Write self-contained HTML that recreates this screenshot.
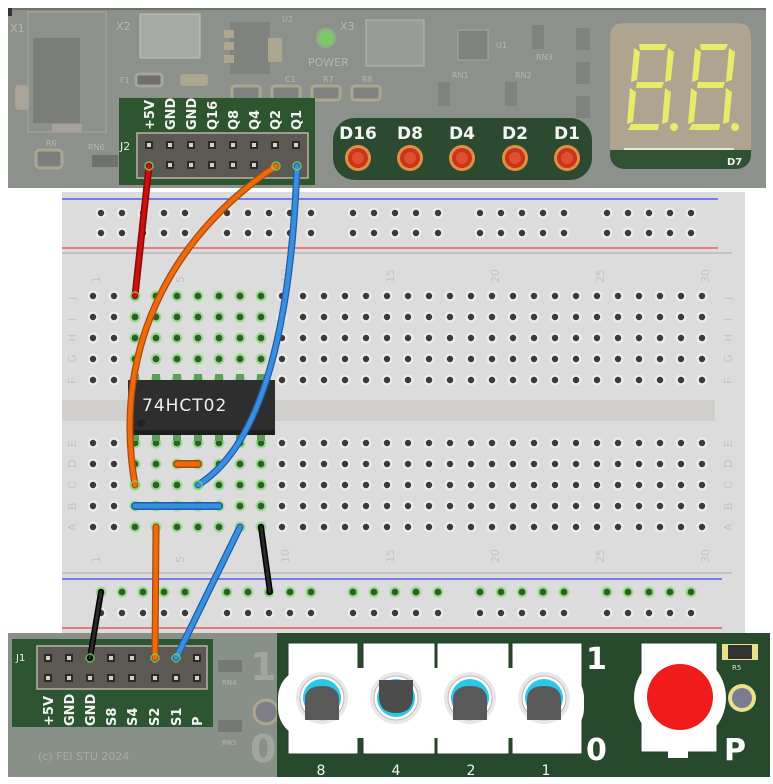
<!DOCTYPE html>
<html><head><meta charset="utf-8"><style>
html,body{margin:0;padding:0;background:#fff;width:773px;height:784px;overflow:hidden}
svg{display:block}
text{font-family:"DejaVu Sans","Liberation Sans",sans-serif}
</style></head><body>
<svg width="773" height="784" viewBox="0 0 773 784" xmlns="http://www.w3.org/2000/svg">
<defs>
<g id="h"><circle r="5.5" fill="#ececec"/><circle r="3.2" fill="#3a3a3a"/></g>
<g id="g"><circle r="5.5" fill="#9bdc8c"/><circle r="3.4" fill="#2f5e2c"/></g>
<g id="pin"><rect x="-4" y="-4" width="8" height="8" fill="#2a2a2a"/><rect x="-2" y="-2" width="4" height="4" fill="#d8d2b0"/></g>
<g id="row">
<use href="#h" x="93"/><use href="#h" x="114"/><use href="#g" x="135"/><use href="#g" x="156"/><use href="#g" x="177"/><use href="#g" x="198"/><use href="#g" x="219"/><use href="#g" x="240"/><use href="#g" x="261"/><use href="#h" x="282"/>
<use href="#h" x="303"/><use href="#h" x="324"/><use href="#h" x="345"/><use href="#h" x="366"/><use href="#h" x="387"/><use href="#h" x="408"/><use href="#h" x="429"/><use href="#h" x="450"/><use href="#h" x="471"/><use href="#h" x="492"/>
<use href="#h" x="513"/><use href="#h" x="534"/><use href="#h" x="555"/><use href="#h" x="576"/><use href="#h" x="597"/><use href="#h" x="618"/><use href="#h" x="639"/><use href="#h" x="660"/><use href="#h" x="681"/><use href="#h" x="702"/>
</g>
</defs>

<!-- TOP BOARD -->
<rect x="8" y="8" width="758" height="180" fill="#8d918b"/>
<rect x="8" y="8" width="758" height="2" fill="#6e726c"/>
<rect x="8" y="8" width="4" height="8" fill="#333"/>
<rect x="28" y="12" width="78" height="120" fill="none" stroke="#a6a9a2" stroke-width="1"/>
<rect x="33" y="38" width="47" height="85" fill="#7a7d78"/>
<rect x="15" y="85" width="14" height="25" rx="4" fill="#aaa397"/>
<rect x="52" y="124" width="30" height="8" fill="#a6a19a"/>
<text x="10" y="32" font-size="11" fill="#b5b8b0">X1</text>
<text x="116" y="30" font-size="11" fill="#b5b8b0">X2</text>
<rect x="140" y="14" width="60" height="44" fill="#a7aaa4" stroke="#c0c2bd"/>
<text x="340" y="30" font-size="11" fill="#b5b8b0">X3</text>
<rect x="366" y="20" width="58" height="46" fill="#9a9d97" stroke="#b5b8b0"/>
<rect x="230" y="22" width="40" height="52" fill="#7f827d"/>
<rect x="224" y="30" width="10" height="8" fill="#aca690"/><rect x="224" y="42" width="10" height="8" fill="#aca690"/><rect x="224" y="55" width="10" height="8" fill="#aca690"/>
<rect x="268" y="38" width="14" height="24" fill="#aca690"/>
<circle cx="326" cy="38" r="10" fill="#8fb07f"/><circle cx="326" cy="38" r="7" fill="#7bc96a"/>
<text x="308" y="66" font-size="11" fill="#b5b8b0">POWER</text>
<text x="282" y="22" font-size="8" fill="#b5b8b0">U2</text>
<rect x="136" y="74" width="26" height="12" rx="3" fill="#6f716d" stroke="#aaa49a" stroke-width="3"/>
<rect x="180" y="74" width="28" height="12" rx="3" fill="#aca690"/>
<rect x="232" y="86" width="28" height="14" rx="3" fill="#7f827d" stroke="#aca690" stroke-width="3"/>
<rect x="272" y="86" width="28" height="14" rx="3" fill="#7f827d" stroke="#aca690" stroke-width="3"/>
<rect x="312" y="86" width="28" height="14" rx="3" fill="#7f827d" stroke="#aca690" stroke-width="3"/>
<rect x="352" y="86" width="28" height="14" rx="3" fill="#7f827d" stroke="#aca690" stroke-width="3"/>
<text x="120" y="83" font-size="8" fill="#b5b8b0">F1</text>
<text x="285" y="82" font-size="8" fill="#b5b8b0">C1</text>
<text x="323" y="82" font-size="8" fill="#b5b8b0">R7</text>
<text x="362" y="82" font-size="8" fill="#b5b8b0">R8</text>
<rect x="458" y="30" width="30" height="30" fill="#7f827d" stroke="#a7aaa4"/>
<text x="496" y="48" font-size="8" fill="#b5b8b0">U1</text>
<rect x="532" y="25" width="12" height="24" fill="#7f827d"/><text x="536" y="60" font-size="8" fill="#b5b8b0">RN3</text>
<rect x="438" y="82" width="12" height="24" fill="#7f827d"/><text x="452" y="78" font-size="8" fill="#b5b8b0">RN1</text>
<rect x="505" y="82" width="12" height="24" fill="#7f827d"/><text x="515" y="78" font-size="8" fill="#b5b8b0">RN2</text>
<rect x="576" y="28" width="14" height="22" fill="#7f827d"/><rect x="576" y="62" width="14" height="22" fill="#7f827d"/><rect x="576" y="96" width="14" height="22" fill="#7f827d"/>
<rect x="36" y="150" width="26" height="18" rx="4" fill="#7b7e79" stroke="#aca690" stroke-width="3"/>
<text x="46" y="146" font-size="8" fill="#b5b8b0">R6</text>
<rect x="92" y="155" width="26" height="12" fill="#6f716d"/><text x="88" y="150" font-size="8" fill="#b5b8b0">RN6</text>

<!-- J2 -->
<rect x="119" y="98" width="196" height="87" fill="#2c5530"/>
<rect x="137" y="133" width="171" height="45" fill="#5c5955" stroke="#b9b4a6" stroke-width="1.5"/>
<text x="120" y="150" font-size="11" fill="#e8e8e8">J2</text>
<g font-size="13" fill="#f2f2f2" font-weight="bold">
<text transform="translate(154,130) rotate(-90)">+5V</text>
<text transform="translate(175,130) rotate(-90)">GND</text>
<text transform="translate(196,130) rotate(-90)">GND</text>
<text transform="translate(217,130) rotate(-90)">Q16</text>
<text transform="translate(238,130) rotate(-90)">Q8</text>
<text transform="translate(259,130) rotate(-90)">Q4</text>
<text transform="translate(280,130) rotate(-90)">Q2</text>
<text transform="translate(301,130) rotate(-90)">Q1</text>
</g>
<g>
<use href="#pin" x="149" y="145"/><use href="#pin" x="170" y="145"/><use href="#pin" x="191" y="145"/><use href="#pin" x="212" y="145"/><use href="#pin" x="233" y="145"/><use href="#pin" x="254" y="145"/><use href="#pin" x="275" y="145"/><use href="#pin" x="296" y="145"/>
<use href="#pin" x="170" y="165"/><use href="#pin" x="191" y="165"/><use href="#pin" x="212" y="165"/><use href="#pin" x="233" y="165"/><use href="#pin" x="254" y="165"/>
</g>

<!-- LED board -->
<rect x="333" y="118" width="259" height="62" rx="22" fill="#2c4a30"/>
<g font-size="17" fill="#f4f4f4" font-weight="bold" text-anchor="middle">
<text x="358" y="139">D16</text><text x="410" y="139">D8</text><text x="462" y="139">D4</text><text x="515" y="139">D2</text><text x="567" y="139">D1</text>
</g>
<g>
<circle cx="358" cy="158" r="13" fill="#e0903f"/><circle cx="358" cy="158" r="10" fill="#c8341c"/><circle cx="358" cy="158" r="6" fill="#e0502e"/>
<circle cx="410" cy="158" r="13" fill="#e0903f"/><circle cx="410" cy="158" r="10" fill="#c8341c"/><circle cx="410" cy="158" r="6" fill="#e0502e"/>
<circle cx="462" cy="158" r="13" fill="#e0903f"/><circle cx="462" cy="158" r="10" fill="#c8341c"/><circle cx="462" cy="158" r="6" fill="#e0502e"/>
<circle cx="515" cy="158" r="13" fill="#e0903f"/><circle cx="515" cy="158" r="10" fill="#c8341c"/><circle cx="515" cy="158" r="6" fill="#e0502e"/>
<circle cx="567" cy="158" r="13" fill="#e0903f"/><circle cx="567" cy="158" r="10" fill="#c8341c"/><circle cx="567" cy="158" r="6" fill="#e0502e"/>
</g>

<!-- 7 segment -->
<rect x="610" y="23" width="141" height="146" rx="14" fill="#2f5233"/>
<path d="M624,23 H737 Q751,23 751,37 V150 H610 V37 Q610,23 624,23 Z" fill="#ada58f"/>
<rect x="624" y="148" width="110" height="2" fill="#e6e6e6"/>
<text x="727" y="165" font-size="10" fill="#f0f0f0" font-weight="bold">D7</text>
<g fill="#e6ec6a">
<polygon points="639,44 667,44 664,50 640,50"/>
<polygon points="634,48 640,52 637,80 631,82"/>
<polygon points="668,48 674,52 671,80 665,82"/>
<polygon points="637,82 664,82 662,88 636,88"/>
<polygon points="630,88 636,92 633,122 627,124"/>
<polygon points="665,88 671,92 668,122 662,124"/>
<polygon points="631,124 659,124 658,130 628,130"/>
<circle cx="674" cy="127" r="4"/>
<polygon points="700,44 728,44 725,50 701,50"/>
<polygon points="695,48 701,52 698,80 692,82"/>
<polygon points="729,48 735,52 732,80 726,82"/>
<polygon points="698,82 725,82 723,88 697,88"/>
<polygon points="691,88 697,92 694,122 688,124"/>
<polygon points="726,88 732,92 729,122 723,124"/>
<polygon points="692,124 720,124 719,130 689,130"/>
<circle cx="735" cy="127" r="4"/>
</g>

<!-- BREADBOARD -->
<rect x="62" y="192" width="683" height="442" fill="#dcdcdc"/>
<line x1="62" y1="199" x2="718" y2="199" stroke="#1a1aee" stroke-width="1"/>
<line x1="62" y1="248" x2="718" y2="248" stroke="#ee1a1a" stroke-width="1"/>
<line x1="62" y1="253" x2="732" y2="253" stroke="#aaa" stroke-width="1"/>
<rect x="62" y="400" width="653" height="21" fill="#d0cfcb"/>
<line x1="62" y1="579" x2="722" y2="579" stroke="#1a1aee" stroke-width="1"/>
<line x1="62" y1="628" x2="722" y2="628" stroke="#ee1a1a" stroke-width="1"/>
<line x1="62" y1="573" x2="732" y2="573" stroke="#aaa" stroke-width="1"/>

<g id="toprail">
<use href="#h" x="101" y="213"/><use href="#h" x="122" y="213"/><use href="#h" x="143" y="213"/><use href="#h" x="164" y="213"/><use href="#h" x="185" y="213"/>
<use href="#h" x="227" y="213"/><use href="#h" x="248" y="213"/><use href="#h" x="269" y="213"/><use href="#h" x="290" y="213"/><use href="#h" x="311" y="213"/>
<use href="#h" x="353" y="213"/><use href="#h" x="374" y="213"/><use href="#h" x="395" y="213"/><use href="#h" x="416" y="213"/><use href="#h" x="438" y="213"/>
<use href="#h" x="480" y="213"/><use href="#h" x="501" y="213"/><use href="#h" x="522" y="213"/><use href="#h" x="543" y="213"/><use href="#h" x="564" y="213"/>
<use href="#h" x="607" y="213"/><use href="#h" x="628" y="213"/><use href="#h" x="649" y="213"/><use href="#h" x="670" y="213"/><use href="#h" x="691" y="213"/>
</g>
<use href="#toprail" y="20"/>

<g fill="#c4c4c4" font-size="11">
<text transform="translate(100,283) rotate(-90)">1</text>
<text transform="translate(184,283) rotate(-90)">5</text>
<text transform="translate(289,283) rotate(-90)">10</text>
<text transform="translate(394,283) rotate(-90)">15</text>
<text transform="translate(499,283) rotate(-90)">20</text>
<text transform="translate(604,283) rotate(-90)">25</text>
<text transform="translate(709,283) rotate(-90)">30</text>
<text transform="translate(100,563) rotate(-90)">1</text>
<text transform="translate(184,563) rotate(-90)">5</text>
<text transform="translate(289,563) rotate(-90)">10</text>
<text transform="translate(394,563) rotate(-90)">15</text>
<text transform="translate(499,563) rotate(-90)">20</text>
<text transform="translate(604,563) rotate(-90)">25</text>
<text transform="translate(709,563) rotate(-90)">30</text>
<text transform="translate(76,300) rotate(-90)">J</text><text transform="translate(76,321) rotate(-90)">I</text><text transform="translate(76,342) rotate(-90)">H</text><text transform="translate(76,363) rotate(-90)">G</text><text transform="translate(76,384) rotate(-90)">F</text>
<text transform="translate(76,447) rotate(-90)">E</text><text transform="translate(76,468) rotate(-90)">D</text><text transform="translate(76,489) rotate(-90)">C</text><text transform="translate(76,510) rotate(-90)">B</text><text transform="translate(76,531) rotate(-90)">A</text>
<text transform="translate(732,300) rotate(-90)">J</text><text transform="translate(732,321) rotate(-90)">I</text><text transform="translate(732,342) rotate(-90)">H</text><text transform="translate(732,363) rotate(-90)">G</text><text transform="translate(732,384) rotate(-90)">F</text>
<text transform="translate(732,447) rotate(-90)">E</text><text transform="translate(732,468) rotate(-90)">D</text><text transform="translate(732,489) rotate(-90)">C</text><text transform="translate(732,510) rotate(-90)">B</text><text transform="translate(732,531) rotate(-90)">A</text>
</g>

<use href="#row" y="296"/><use href="#row" y="317"/><use href="#row" y="338"/><use href="#row" y="359"/><use href="#row" y="380"/>
<use href="#row" y="443"/><use href="#row" y="464"/><use href="#row" y="485"/><use href="#row" y="506"/><use href="#row" y="527"/>

<!-- bottom rail -->
<g>
<use href="#g" x="101" y="592"/><use href="#g" x="122" y="592"/><use href="#g" x="143" y="592"/><use href="#g" x="164" y="592"/><use href="#g" x="185" y="592"/>
<use href="#g" x="227" y="592"/><use href="#g" x="248" y="592"/><use href="#g" x="269" y="592"/><use href="#g" x="290" y="592"/><use href="#g" x="311" y="592"/>
<use href="#g" x="353" y="592"/><use href="#g" x="374" y="592"/><use href="#g" x="395" y="592"/><use href="#g" x="416" y="592"/><use href="#g" x="438" y="592"/>
<use href="#g" x="480" y="592"/><use href="#g" x="501" y="592"/><use href="#g" x="522" y="592"/><use href="#g" x="543" y="592"/><use href="#g" x="564" y="592"/>
<use href="#g" x="607" y="592"/><use href="#g" x="628" y="592"/><use href="#g" x="649" y="592"/><use href="#g" x="670" y="592"/><use href="#g" x="691" y="592"/>
</g>
<g transform="translate(0,21)">
<use href="#h" x="101" y="592"/><use href="#h" x="122" y="592"/><use href="#h" x="143" y="592"/><use href="#h" x="164" y="592"/><use href="#h" x="185" y="592"/>
<use href="#h" x="227" y="592"/><use href="#h" x="248" y="592"/><use href="#h" x="269" y="592"/><use href="#h" x="290" y="592"/><use href="#h" x="311" y="592"/>
<use href="#h" x="353" y="592"/><use href="#h" x="374" y="592"/><use href="#h" x="395" y="592"/><use href="#h" x="416" y="592"/><use href="#h" x="438" y="592"/>
<use href="#h" x="480" y="592"/><use href="#h" x="501" y="592"/><use href="#h" x="522" y="592"/><use href="#h" x="543" y="592"/><use href="#h" x="564" y="592"/>
<use href="#h" x="607" y="592"/><use href="#h" x="628" y="592"/><use href="#h" x="649" y="592"/><use href="#h" x="670" y="592"/><use href="#h" x="691" y="592"/>
</g>

<!-- IC -->
<g fill="#5aa05a">
<rect x="131" y="374" width="8" height="8"/><rect x="152" y="374" width="8" height="8"/><rect x="173" y="374" width="8" height="8"/><rect x="194" y="374" width="8" height="8"/><rect x="215" y="374" width="8" height="8"/><rect x="236" y="374" width="8" height="8"/><rect x="257" y="374" width="8" height="8"/>
<rect x="131" y="433" width="8" height="8"/><rect x="152" y="433" width="8" height="8"/><rect x="173" y="433" width="8" height="8"/><rect x="194" y="433" width="8" height="8"/><rect x="215" y="433" width="8" height="8"/><rect x="236" y="433" width="8" height="8"/><rect x="257" y="433" width="8" height="8"/>
</g>
<rect x="128" y="380" width="147" height="55" fill="#2e2e2e"/>
<rect x="128" y="430" width="147" height="5" fill="#1e1e1e"/>
<circle cx="141" cy="423" r="4" fill="#222"/>
<text x="142" y="411" font-size="17" fill="#eeeeee" font-family="Liberation Mono,monospace" letter-spacing="1">74HCT02</text>

<!-- BOTTOM BOARD -->
<rect x="8" y="633" width="762" height="144" fill="#889087"/>
<rect x="12" y="639" width="201" height="88" fill="#2e5532"/>
<rect x="37" y="646" width="170" height="43" fill="#5c5955" stroke="#b9b4a6" stroke-width="1.5"/>
<text x="16" y="661" font-size="10" fill="#eee">J1</text>
<g>
<use href="#pin" x="48" y="658"/><use href="#pin" x="69" y="658"/><use href="#pin" x="90" y="658"/><use href="#pin" x="111" y="658"/><use href="#pin" x="132" y="658"/><use href="#pin" x="155" y="658"/><use href="#pin" x="176" y="658"/><use href="#pin" x="197" y="658"/>
<use href="#pin" x="48" y="678"/><use href="#pin" x="69" y="678"/><use href="#pin" x="90" y="678"/><use href="#pin" x="111" y="678"/><use href="#pin" x="132" y="678"/><use href="#pin" x="155" y="678"/><use href="#pin" x="176" y="678"/><use href="#pin" x="197" y="678"/>
</g>
<g font-size="13" fill="#f2f2f2" font-weight="bold">
<text transform="translate(53,726) rotate(-90)">+5V</text>
<text transform="translate(74,726) rotate(-90)">GND</text>
<text transform="translate(95,726) rotate(-90)">GND</text>
<text transform="translate(116,726) rotate(-90)">S8</text>
<text transform="translate(137,726) rotate(-90)">S4</text>
<text transform="translate(159,726) rotate(-90)">S2</text>
<text transform="translate(181,726) rotate(-90)">S1</text>
<text transform="translate(202,726) rotate(-90)">P</text>
</g>
<text x="38" y="760" font-size="11" fill="#a8aca4">(c) FEI STU 2024</text>
<text x="250" y="680" font-size="38" fill="#a3a69f" font-weight="bold">1</text>
<text x="250" y="762" font-size="38" fill="#a3a69f" font-weight="bold">0</text>
<circle cx="266" cy="712" r="12" fill="#7f7f87" stroke="#aca690" stroke-width="3"/>
<rect x="218" y="660" width="24" height="12" fill="#757873"/><text x="222" y="685" font-size="7" fill="#b5b8b0">RN4</text>
<rect x="218" y="720" width="24" height="12" fill="#757873"/><text x="222" y="745" font-size="7" fill="#b5b8b0">RN5</text>

<rect x="277" y="633" width="493" height="144" fill="#284a2c"/>
<g fill="#ffffff" stroke="#2a3a2a" stroke-width="1">
<rect x="288" y="643" width="70" height="111"/>
<rect x="363" y="643" width="72" height="111"/>
<rect x="437" y="643" width="72" height="111"/>
<rect x="512" y="643" width="70" height="111"/>
</g>
<rect x="278" y="668" width="306" height="70" rx="30" fill="#fff"/>
<g>
<circle cx="322" cy="698" r="26" fill="#e8e8e8"/><circle cx="322" cy="698" r="22" fill="#fff" stroke="#bbb"/><circle cx="322" cy="698" r="19" fill="#28c8e8"/>
<path d="M305,720 L305,700 Q305,686 322,686 Q339,686 339,700 L339,720 Z" fill="#595959"/>
<circle cx="396" cy="698" r="26" fill="#e8e8e8"/><circle cx="396" cy="698" r="22" fill="#fff" stroke="#bbb"/><circle cx="396" cy="698" r="19" fill="#28c8e8"/>
<path d="M379,680 L413,680 L413,696 Q413,713 396,713 Q379,713 379,696 Z" fill="#4c4c4c"/>
<circle cx="470" cy="698" r="26" fill="#e8e8e8"/><circle cx="470" cy="698" r="22" fill="#fff" stroke="#bbb"/><circle cx="470" cy="698" r="19" fill="#28c8e8"/>
<path d="M453,720 L453,700 Q453,686 470,686 Q487,686 487,700 L487,720 Z" fill="#595959"/>
<circle cx="544" cy="698" r="26" fill="#e8e8e8"/><circle cx="544" cy="698" r="22" fill="#fff" stroke="#bbb"/><circle cx="544" cy="698" r="19" fill="#28c8e8"/>
<path d="M527,720 L527,700 Q527,686 544,686 Q561,686 561,700 L561,720 Z" fill="#595959"/>
</g>
<g font-size="30" fill="#fff" font-weight="bold">
<text x="586" y="669">1</text><text x="586" y="760">0</text><text x="724" y="760">P</text>
</g>
<g font-size="14" fill="#f4f4f4" text-anchor="middle">
<text x="321" y="775">8</text><text x="396" y="775">4</text><text x="471" y="775">2</text><text x="546" y="775">1</text>
</g>
<rect x="641" y="643" width="76" height="109" fill="#fff" stroke="#2a3a2a"/>
<rect x="668" y="750" width="20" height="8" fill="#fff"/>
<circle cx="680" cy="698" r="46" fill="#fff"/>
<circle cx="680" cy="697" r="33" fill="#f01c1c"/>
<circle cx="742" cy="698" r="14" fill="#e8e08a"/><circle cx="742" cy="698" r="10" fill="#7c7c90"/>
<rect x="722" y="644" width="36" height="16" fill="#e8e08a"/><rect x="728" y="645" width="24" height="14" fill="#333"/>
<text x="732" y="670" font-size="7" fill="#dcdcdc">R5</text>

<!-- WIRES -->
<g fill="none" stroke-linecap="round">
<line x1="149" y1="166" x2="135" y2="296" stroke="#8a0a0a" stroke-width="7"/>
<line x1="149" y1="166" x2="135" y2="296" stroke="#cc1010" stroke-width="4"/>
<path d="M276,166 C180,230 110,340 135,485" stroke="#a84a10" stroke-width="7"/>
<path d="M276,166 C180,230 110,340 135,485" stroke="#ee6a0a" stroke-width="4.5"/>
<path d="M297,166 C292,300 270,440 198,485" stroke="#1f5ea8" stroke-width="7"/>
<path d="M297,166 C292,300 270,440 198,485" stroke="#3a8ee0" stroke-width="4.5"/>
<line x1="177" y1="464" x2="198" y2="464" stroke="#a84a10" stroke-width="8"/>
<line x1="177" y1="464" x2="198" y2="464" stroke="#ee6a0a" stroke-width="5"/>
<line x1="135" y1="506" x2="219" y2="506" stroke="#1f5ea8" stroke-width="8"/>
<line x1="135" y1="506" x2="219" y2="506" stroke="#3a8ee0" stroke-width="5"/>
<line x1="156" y1="527" x2="155" y2="658" stroke="#a84a10" stroke-width="7"/>
<line x1="156" y1="527" x2="155" y2="658" stroke="#ee6a0a" stroke-width="4.5"/>
<line x1="240" y1="527" x2="176" y2="658" stroke="#1f5ea8" stroke-width="7"/>
<line x1="240" y1="527" x2="176" y2="658" stroke="#3a8ee0" stroke-width="4.5"/>
<line x1="261" y1="527" x2="270" y2="592" stroke="#000" stroke-width="6"/>
<line x1="261" y1="527" x2="270" y2="592" stroke="#2a2a2a" stroke-width="3"/>
<line x1="101" y1="592" x2="90" y2="658" stroke="#000" stroke-width="6"/>
<line x1="101" y1="592" x2="90" y2="658" stroke="#2a2a2a" stroke-width="3"/>
</g>
<g fill="none" stroke="#7ad66a" stroke-width="1.5" opacity="0.8">
<circle cx="149" cy="166" r="4"/><circle cx="276" cy="166" r="4"/><circle cx="297" cy="166" r="4"/>
<circle cx="135" cy="296" r="4"/><circle cx="135" cy="485" r="4"/><circle cx="198" cy="485" r="4"/>
<circle cx="155" cy="658" r="4"/><circle cx="176" cy="658" r="4"/><circle cx="90" cy="658" r="4"/>
</g>
</svg>
</body></html>
